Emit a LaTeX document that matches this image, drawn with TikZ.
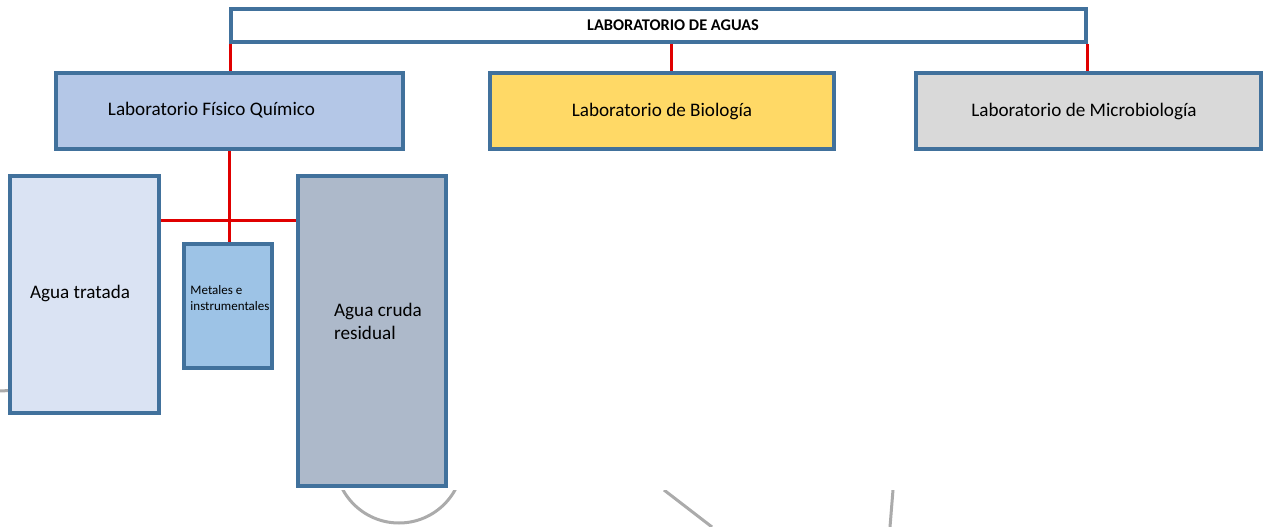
\documentclass[tikz,border=0pt]{standalone}
\usepackage{fontspec}
\setmainfont{Carlito}
\definecolor{boxblue}{HTML}{41719C}
\definecolor{linkred}{HTML}{E00000}
\definecolor{tracegray}{HTML}{ABABAB}
\definecolor{fqfill}{HTML}{B4C7E7}
\definecolor{biofill}{HTML}{FFD966}
\definecolor{micfill}{HTML}{D9D9D9}
\definecolor{trafill}{HTML}{DAE3F3}
\definecolor{metfill}{HTML}{9DC3E6}
\definecolor{crufill}{HTML}{ADB9CA}
\newcommand{\mainsize}{\fontsize{10.9}{13}\selectfont}
\newcommand{\smallsize}{\fontsize{7.4}{9}\selectfont}
\newcommand{\titlesize}{\fontsize{9.3}{11}\selectfont\bfseries}
\tikzset{
  box/.style={rectangle, draw=boxblue, line width=0.08cm, inner sep=0pt, font=\mainsize},
  conn/.style={draw=linkred, line width=0.06cm},
  trace/.style={draw=tracegray, line width=0.06cm},
}
\begin{document}
\begin{tikzpicture}
        \useasboundingbox (0,0) rectangle (25.3,-10.54);

        % Background traces
        \draw[trace] (0,-7.82) -- (0.2,-7.81);
        \begin{scope}
          \clip (0,-9.8) rectangle (25.3,-10.54);
          \draw[trace] (7.98,-9.18) circle (1.28);
          \draw[trace] (13.28,-9.8) -- (14.24,-10.54);
          \draw[trace] (17.86,-9.8) -- (17.80,-10.54);
        \end{scope}

        % Nodes
        \node (top) [box, fill=white, minimum width=17.10cm, minimum height=0.66cm,
          label={[name=toptext, xshift=0.29cm, font=\titlesize]center:LABORATORIO DE AGUAS}] at (13.17,-0.51) {};
        \node (fq) [box, fill=fqfill, minimum width=6.94cm, minimum height=1.52cm,
          label={[name=fqtext, xshift=-0.36cm, yshift=0.02cm, font=\mainsize]center:Laboratorio Físico Químico}] at (4.59,-2.22) {};
        \node (bio) [box, fill=biofill, minimum width=6.88cm, minimum height=1.52cm] at (13.24,-2.22) {Laboratorio de Biología};
        \node (mic) [box, fill=micfill, minimum width=6.90cm, minimum height=1.52cm,
          label={[name=mictext, xshift=-0.09cm, font=\mainsize]center:Laboratorio de Microbiología}] at (21.77,-2.22) {};
        \node (tra) [box, fill=trafill, minimum width=2.98cm, minimum height=4.74cm,
          label={[name=tratext, xshift=-0.09cm, yshift=0.03cm, font=\mainsize]center:Agua tratada}] at (1.69,-5.89) {};
        \node (met) [box, fill=metfill, minimum width=1.76cm, minimum height=2.48cm,
          label={[name=mettext, xshift=0.04cm, yshift=0.16cm, align=left, font=\smallsize]center:Metales e\\instrumentales}] at (4.56,-6.12) {};
        \node (cru) [box, fill=crufill, minimum width=2.96cm, minimum height=6.20cm,
          label={[name=crutext, xshift=0.12cm, yshift=0.2cm, align=left, font=\mainsize]center:Agua cruda\\residual}] at (7.44,-6.62) {};
        \coordinate (hub) at (4.58,-4.42);

        % Edges
        \draw[conn] ([xshift=0.02cm]top.south west) -- ([xshift=0.02cm]top.south west |- fq.north);
        \draw[conn] ([xshift=0.26cm]top.south) -- ([xshift=0.26cm]top.south |- bio.north);
        \draw[conn] ([xshift=-0.02cm]top.south east) -- ([xshift=-0.02cm]top.south east |- mic.north);
        \draw[conn] (fq.south -| hub) -- (met.north -| hub);
        \draw[conn] (hub -| tra.east) -- (hub -| cru.west);

    \end{tikzpicture}
\end{document}
